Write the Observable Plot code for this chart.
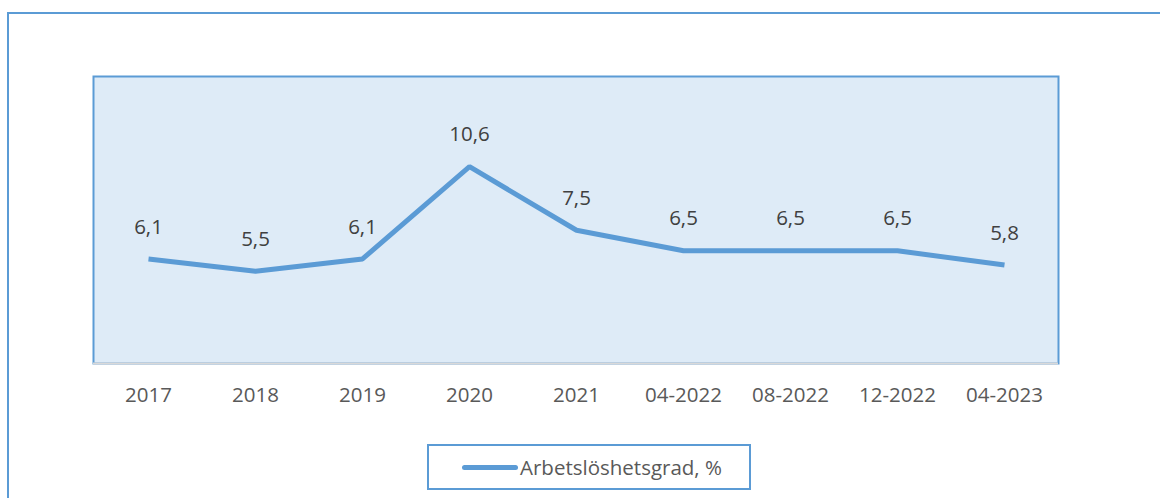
<!DOCTYPE html>
<html>
<head>
<meta charset="utf-8">
<script src="https://cdn.jsdelivr.net/npm/d3@7"></script>
<script src="https://cdn.jsdelivr.net/npm/@observablehq/plot@0.6"></script>
<style>
  html, body { margin: 0; padding: 0; background: #fff; }
  #wrap { position: relative; width: 1160px; height: 498px; overflow: hidden; font-family: "Open Sans", sans-serif; }
  #outer { position: absolute; left: 7px; top: 12px; width: 1300px; height: 700px; border: 2.5px solid #5b9bd5; box-sizing: border-box; }
  #chart { position: absolute; left: 0; top: 0; }
  #legend { position: absolute; left: 427px; top: 444px; width: 324px; height: 46px; box-sizing: border-box;
            border: 2px solid #5b9bd5; background: #fff; display: flex; align-items: center; }
  #legend .sw { width: 56px; height: 5px; background: #5b9bd5; border-radius: 3px; margin-left: 33px; margin-right: 2px; }
  #legend .tx { font-size: 20.5px; color: #595959; }
</style>
</head>
<body>
<div id="wrap">
  <div id="outer"></div>
  <div id="chart"></div>
  <div id="legend"><div class="sw"></div><div class="tx">Arbetslöshetsgrad, %</div></div>
</div>
<script>
const periods = ["2017", "2018", "2019", "2020", "2021", "04-2022", "08-2022", "12-2022", "04-2023"];
const unemployment = [6.1, 5.5, 6.1, 10.6, 7.5, 6.5, 6.5, 6.5, 5.8];
const valueLabels = ["6,1", "5,5", "6,1", "10,6", "7,5", "6,5", "6,5", "6,5", "5,8"];
const seriesName = "Arbetslöshetsgrad, %";
const yDomain = [1, 15];

const data = periods.map((p, i) => ({period: p, value: unemployment[i], label: valueLabels[i]}));

const chart = Plot.plot({
  width: 1160,
  height: 498,
  marginLeft: 93,
  marginRight: 102,
  marginTop: 76,
  marginBottom: 135,
  style: {fontFamily: "'Open Sans', sans-serif", background: "transparent", color: "#595959", overflow: "visible"},
  x: {type: "point", domain: periods, padding: 0.5, label: null},
  y: {domain: yDomain, axis: null},
  marks: [
    Plot.frame({fill: "#deebf7", stroke: "#5b9bd5", strokeWidth: 2}),
    Plot.ruleY([yDomain[0]], {stroke: "#d9d9d9", strokeWidth: 2}),
    Plot.axisX({tickSize: 0, tickPadding: 24, fontSize: 20.5, fill: "#595959", label: null}),
    Plot.line(data, {x: "period", y: "value", stroke: "#5b9bd5", strokeWidth: 5, strokeLinejoin: "miter", strokeLinecap: "butt"}),
    Plot.text(data, {x: "period", y: "value", text: "label", dy: -32, fontSize: 20.5, fill: "#404040"})
  ]
});
document.getElementById("chart").appendChild(chart);
</script>
</body>
</html>
